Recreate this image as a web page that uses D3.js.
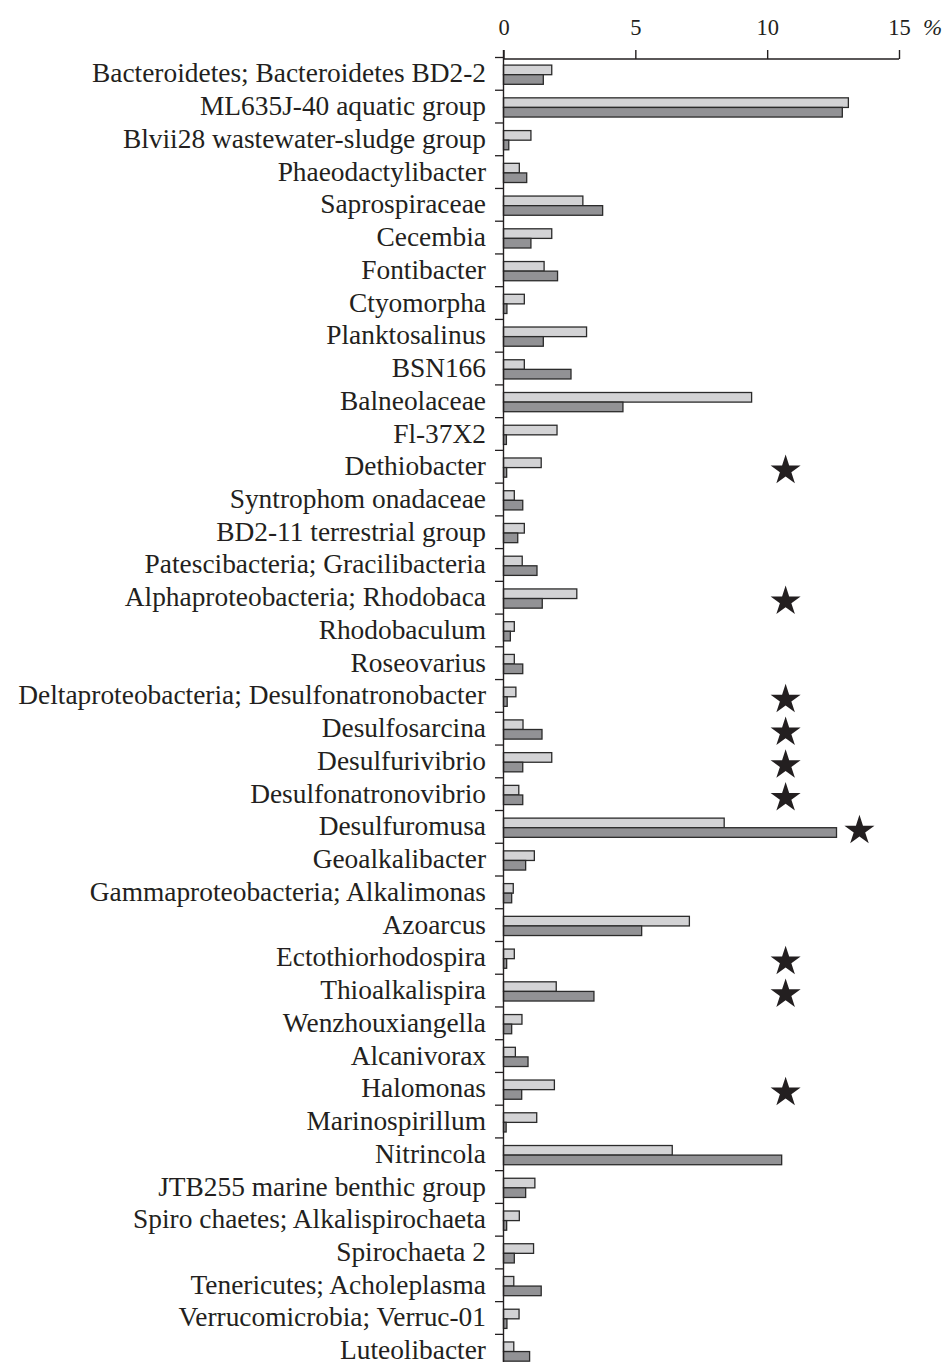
<!DOCTYPE html>
<html>
<head>
<meta charset="utf-8">
<script src="https://cdn.jsdelivr.net/npm/d3@7"></script>
<style>
  html, body { margin: 0; padding: 0; background: #fff; }
  svg { display: block; }
  text { font-family: "Liberation Serif", "Times New Roman", serif; fill: #231f20; }
</style>
</head>
<body>
<svg id="chart" width="946" height="1362"></svg>
<script>
// Taxa, top to bottom
const categories = [
  "Bacteroidetes; Bacteroidetes BD2-2",
  "ML635J-40 aquatic group",
  "Blvii28 wastewater-sludge group",
  "Phaeodactylibacter",
  "Saprospiraceae",
  "Cecembia",
  "Fontibacter",
  "Ctyomorpha",
  "Planktosalinus",
  "BSN166",
  "Balneolaceae",
  "Fl-37X2",
  "Dethiobacter",
  "Syntrophom onadaceae",
  "BD2-11 terrestrial group",
  "Patescibacteria; Gracilibacteria",
  "Alphaproteobacteria; Rhodobaca",
  "Rhodobaculum",
  "Roseovarius",
  "Deltaproteobacteria; Desulfonatronobacter",
  "Desulfosarcina",
  "Desulfurivibrio",
  "Desulfonatronovibrio",
  "Desulfuromusa",
  "Geoalkalibacter",
  "Gammaproteobacteria; Alkalimonas",
  "Azoarcus",
  "Ectothiorhodospira",
  "Thioalkalispira",
  "Wenzhouxiangella",
  "Alcanivorax",
  "Halomonas",
  "Marinospirillum",
  "Nitrincola",
  "JTB255 marine benthic group",
  "Spiro chaetes; Alkalispirochaeta",
  "Spirochaeta 2",
  "Tenericutes; Acholeplasma",
  "Verrucomicrobia; Verruc-01",
  "Luteolibacter"
];

// Relative abundance, %: first sample (light bars)
const seriesA = [
  1.83, 13.08, 1.04, 0.60, 3.01, 1.83, 1.54, 0.79, 3.15, 0.79,
  9.41, 2.03, 1.43, 0.41, 0.79, 0.71, 2.78, 0.41, 0.41, 0.47,
  0.74, 1.83, 0.58, 8.37, 1.17, 0.37, 7.05, 0.41, 2.00, 0.70,
  0.45, 1.93, 1.26, 6.40, 1.19, 0.60, 1.14, 0.39, 0.59, 0.39
];

// Relative abundance, %: second sample (dark bars)
const seriesB = [
  1.51, 12.85, 0.20, 0.88, 3.76, 1.04, 2.05, 0.13, 1.51, 2.56,
  4.53, 0.11, 0.12, 0.73, 0.54, 1.27, 1.47, 0.26, 0.73, 0.14,
  1.46, 0.73, 0.73, 12.63, 0.84, 0.31, 5.24, 0.12, 3.43, 0.31,
  0.93, 0.69, 0.10, 10.55, 0.84, 0.12, 0.41, 1.43, 0.13, 0.99
];

// Taxa marked with a star, and where along the % axis the star sits
const starredTaxa = [
  "Dethiobacter",
  "Alphaproteobacteria; Rhodobaca",
  "Deltaproteobacteria; Desulfonatronobacter",
  "Desulfosarcina",
  "Desulfurivibrio",
  "Desulfonatronovibrio",
  "Desulfuromusa",
  "Ectothiorhodospira",
  "Thioalkalispira",
  "Halomonas"
];
const starPositions = [10.7, 10.7, 10.7, 10.7, 10.7, 10.7, 13.5, 10.7, 10.7, 10.7];

const xTicks = [0, 5, 10, 15];
const unitLabel = "%";

const svg = d3.select("#chart");

const x = d3.scaleLinear().domain([0, 15]).range([503.5, 899]);
const y = d3.scaleBand().domain(categories).range([57.5, 57.5 + 32.74 * categories.length]).padding(0);

const lightFill = "#d3d3d5";
const darkFill = "#929295";
const barStroke = "#2b2b2b";
const barH = 9.6;
const barTop = 7.6;

// Bars: light (upper) and dark (lower) within each band
const rows = categories.map((c, i) => ({ c, a: seriesA[i], b: seriesB[i] }));

const g = svg.append("g");

g.selectAll("rect.a").data(rows).join("rect")
  .attr("class", "a")
  .attr("x", x(0))
  .attr("y", d => y(d.c) + barTop)
  .attr("width", d => x(d.a) - x(0))
  .attr("height", barH)
  .attr("fill", lightFill)
  .attr("stroke", barStroke)
  .attr("stroke-width", 1.3);

g.selectAll("rect.b").data(rows).join("rect")
  .attr("class", "b")
  .attr("x", x(0))
  .attr("y", d => y(d.c) + barTop + barH)
  .attr("width", d => x(d.b) - x(0))
  .attr("height", barH)
  .attr("fill", darkFill)
  .attr("stroke", barStroke)
  .attr("stroke-width", 1.3);

// Top % axis
const xAxis = d3.axisTop(x).tickValues(xTicks).tickSize(9).tickPadding(0).tickFormat(d3.format("d"));
const gx = svg.append("g").attr("transform", "translate(0,59)").call(xAxis);
gx.attr("font-size", null).attr("font-family", null);
gx.select(".domain").attr("stroke", "#231f20").attr("stroke-width", 1.4).attr("d", `M${x(0)},0H${x(15)}`);
gx.selectAll(".tick line").attr("stroke", "#231f20").attr("stroke-width", 1.4);
gx.selectAll(".tick text")
  .attr("y", -24)
  .attr("dy", 0)
  .style("font-family", "'Liberation Serif', serif")
  .style("font-size", "22.5px")
  .attr("fill", "#231f20");

svg.append("text")
  .attr("x", x(15) + 24)
  .attr("y", 35)
  .style("font-size", "23px")
  .style("font-style", "italic")
  .text(unitLabel);

// Left category axis: vertical line with ticks at band boundaries
const gy = svg.append("g");
gy.append("line")
  .attr("x1", x(0)).attr("x2", x(0))
  .attr("y1", 50).attr("y2", 1362)
  .attr("stroke", "#231f20").attr("stroke-width", 1.4);
gy.selectAll("line.bt").data(categories).join("line")
  .attr("class", "bt")
  .attr("x1", x(0) - 8.5).attr("x2", x(0))
  .attr("y1", d => y(d)).attr("y2", d => y(d))
  .attr("stroke", "#231f20").attr("stroke-width", 1.3);

gy.selectAll("text.lab").data(categories).join("text")
  .attr("class", "lab")
  .attr("x", 486)
  .attr("y", d => y(d) + y.bandwidth() / 2 + 8.5)
  .attr("text-anchor", "end")
  .style("font-size", "27.4px")
  .text(d => d);

// Stars
const star = d3.symbol().type(d3.symbolStar).size(280);
svg.selectAll("path.star").data(starredTaxa.map((c, i) => ({ c, v: starPositions[i] }))).join("path")
  .attr("class", "star")
  .attr("transform", d => `translate(${x(d.v)},${y(d.c) + 20})`)
  .attr("d", star)
  .attr("fill", "#231f20");
</script>
</body>
</html>
